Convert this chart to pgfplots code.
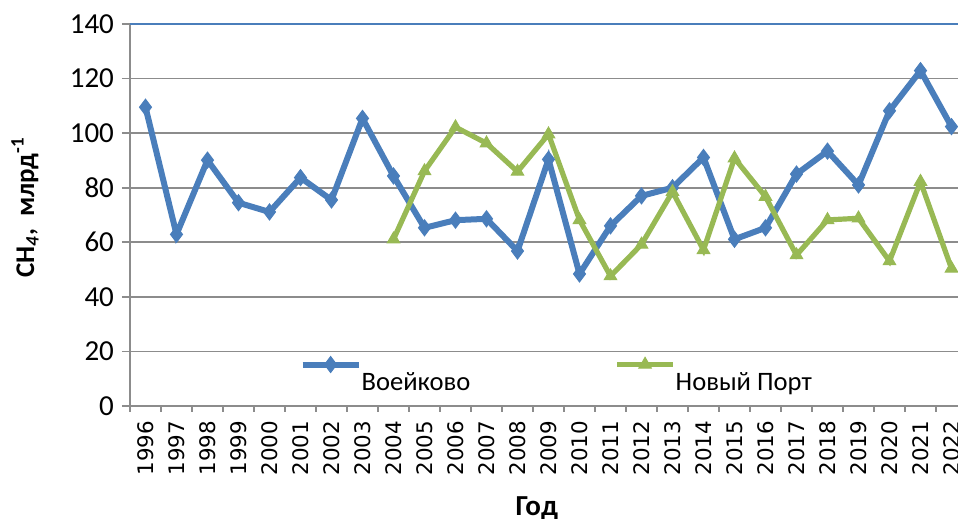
\documentclass[border=0pt]{standalone}
\usepackage{fontspec}
\setmainfont{Carlito}
\newfontfamily\dejavu{DejaVu Sans}
\usepackage{pgfplots}
\pgfplotsset{compat=1.18}
\definecolor{sblue}{HTML}{4A7EBB}
\definecolor{sgreen}{HTML}{98B954}
\definecolor{gridgray}{HTML}{8C8C8C}
\begin{document}
\begin{tikzpicture}
\begin{axis}[
  at={(0pt,0pt)}, anchor=south west,
  scale only axis,
  width=418.5pt, height=191pt,
  xmin=1995.5, xmax=2022.5,
  ymin=0, ymax=140,
  ytick={0,20,...,140},
  xtick={1996,...,2022},
  xticklabels={1996,1997,1998,1999,2000,2001,2002,2003,2004,2005,2006,2007,2008,2009,2010,2011,2012,2013,2014,2015,2016,2017,2018,2019,2020,2021,2022},
  minor xtick={1995.5,1996.5,...,2022.5},
  major x tick style={draw=none},
  axis x line*=bottom, axis y line*=left,
  axis line style={gridgray, line width=0.8pt, -},
  tick style={gridgray, line width=0.8pt},
  tick align=outside,
  major tick length=4pt, minor tick length=3pt,
  ymajorgrids,
  major grid style={gridgray, line width=0.8pt},
  /pgf/number format/assume math mode=true,
  yticklabel style={font=\fontsize{14.5}{16}\selectfont, xshift=-0.5pt},
  xticklabel style={font=\dejavu\fontsize{10.7}{12}\selectfont, rotate=90, anchor=east, yshift=0pt},
  every axis y label/.style={at={(rel axis cs:0,0.52)}, xshift=-52.5pt, rotate=90, anchor=center},
  ylabel={\bfseries\fontsize{13.5}{15}\selectfont CH\textsubscript{\textit{4}},\ \ млрд\textsuperscript{-1}},
  every axis x label/.style={at={(rel axis cs:0.486,0)}, yshift=-51pt, anchor=center},
  xlabel={\bfseries\fontsize{14.5}{16}\selectfont Год},
  legend columns=2,
  legend style={at={(rel axis cs:0.195,0.012)}, anchor=south west, draw=none, fill=none,
    font=\fontsize{13.3}{15}\selectfont,
    /tikz/every even column/.append style={column sep=70pt},
    /tikz/every odd column/.append style={column sep=-2pt}},
  legend image code/.code={\draw[mark repeat=2,mark phase=2,#1] plot coordinates {(0pt,9pt) (14pt,9pt) (28pt,9pt)};},
  clip=false,
]
\draw[sblue, line width=0.8pt] (rel axis cs:0,1) -- (rel axis cs:1,1);
\addplot[sblue, line width=3pt, mark=diamond*, mark size=4pt, mark options={solid, line width=0.5pt}] coordinates {
(1996,109.5) (1997,62.9) (1998,90.1) (1999,74.5) (2000,71.1) (2001,83.7) (2002,75.5)
(2003,105.4) (2004,84.3) (2005,65.3) (2006,68.1) (2007,68.6) (2008,56.8) (2009,90.4)
(2010,48.4) (2011,66.0) (2012,77.0) (2013,80.0) (2014,91.1) (2015,61.1) (2016,65.3)
(2017,85.0) (2018,93.4) (2019,81.0) (2020,108.2) (2021,122.9) (2022,102.4)
};
\addlegendentry{Воейково}
\addplot[sgreen, line width=2.6pt, mark=triangle*, mark size=3.6pt, mark options={solid, line width=0.5pt}] coordinates {
(2004,61.1) (2005,86.1) (2006,102.2) (2007,96.3) (2008,85.9) (2009,99.6) (2010,68.2)
(2011,47.6) (2012,59.2) (2013,78.5) (2014,57.2) (2015,90.8) (2016,76.7) (2017,55.3)
(2018,68.2) (2019,68.8) (2020,53.1) (2021,82.2) (2022,50.4)
};
\addlegendentry{Новый Порт}
\end{axis}
\pgfresetboundingbox
\useasboundingbox (-65pt,-56.5pt) rectangle (414pt,203pt);
\end{tikzpicture}
\end{document}
